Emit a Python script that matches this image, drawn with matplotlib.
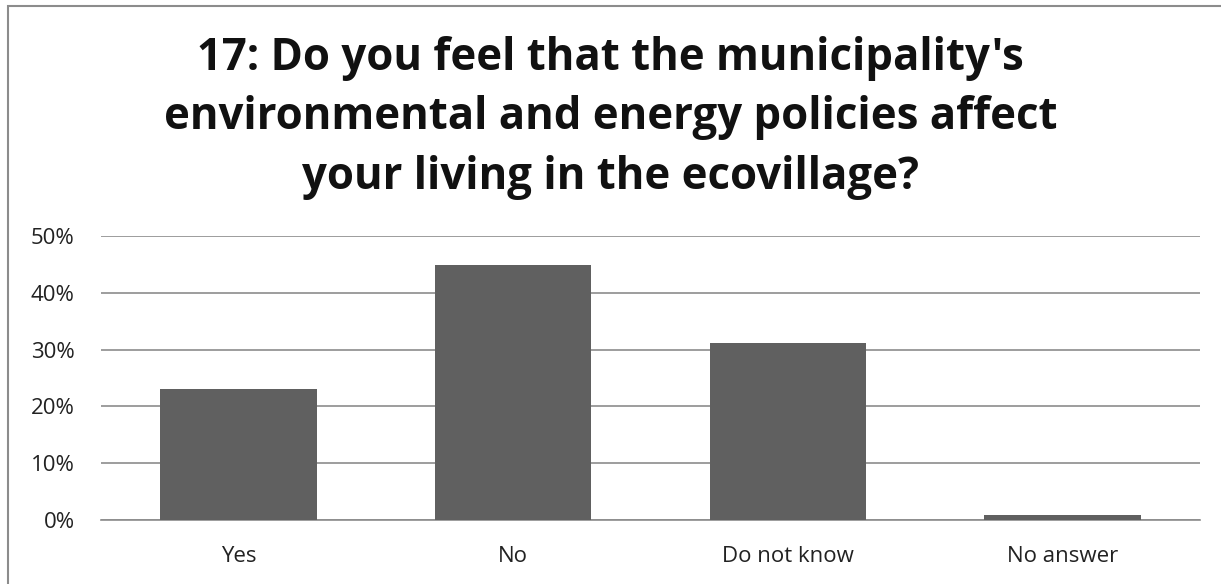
import matplotlib
matplotlib.use("Agg")
import matplotlib.pyplot as plt
from matplotlib.patches import Rectangle
from matplotlib.ticker import PercentFormatter

categories = ["Yes", "No", "Do not know", "No answer"]
values = [23.1, 44.9, 31.1, 0.8]
yticks = [0, 10, 20, 30, 40, 50]
title = "17: Do you feel that the municipality's\nenvironmental and energy policies affect\nyour living in the ecovillage?"

plt.rcParams['font.family'] = ['Open Sans', 'DejaVu Sans']

fig = plt.figure(figsize=(12.21, 5.84), dpi=100)
W, H = 1221, 584
ax = fig.add_axes([101 / W, 1 - 520 / H, (1200 - 101) / W, (520 - 236) / H])

x = list(range(len(categories)))
ax.bar(x, values, width=0.57, color="#606060", zorder=3)
ax.set_xlim(-0.5, len(categories) - 0.5)
ax.set_ylim(0, 50)
ax.set_yticks(yticks)
ax.yaxis.set_major_formatter(PercentFormatter(decimals=0))
ax.set_xticks(x)
ax.set_xticklabels(categories)
ax.grid(axis="y", color="#8c8c8c", linewidth=1.2, zorder=0)
for s in ["top", "right", "left"]:
    ax.spines[s].set_visible(False)
ax.spines["bottom"].set_color("#8c8c8c")
ax.spines["bottom"].set_linewidth(1.2)
ax.tick_params(axis="both", length=0, labelsize=16, colors="#222222")
ax.tick_params(axis="y", pad=19)
ax.tick_params(axis="x", pad=19)

fig.text(0.5, 1 - 118 / H, title, ha="center", va="center", fontsize=31.5,
         fontweight="bold", linespacing=1.42, color="#111111")

fig.patches.append(Rectangle((8 / W, -0.05), 1.2, 1 - 6 / H + 0.05, transform=fig.transFigure,
                             fill=False, edgecolor="#8c8c8c", linewidth=1.5))

fig.savefig("out.png", dpi=100, facecolor="white")
